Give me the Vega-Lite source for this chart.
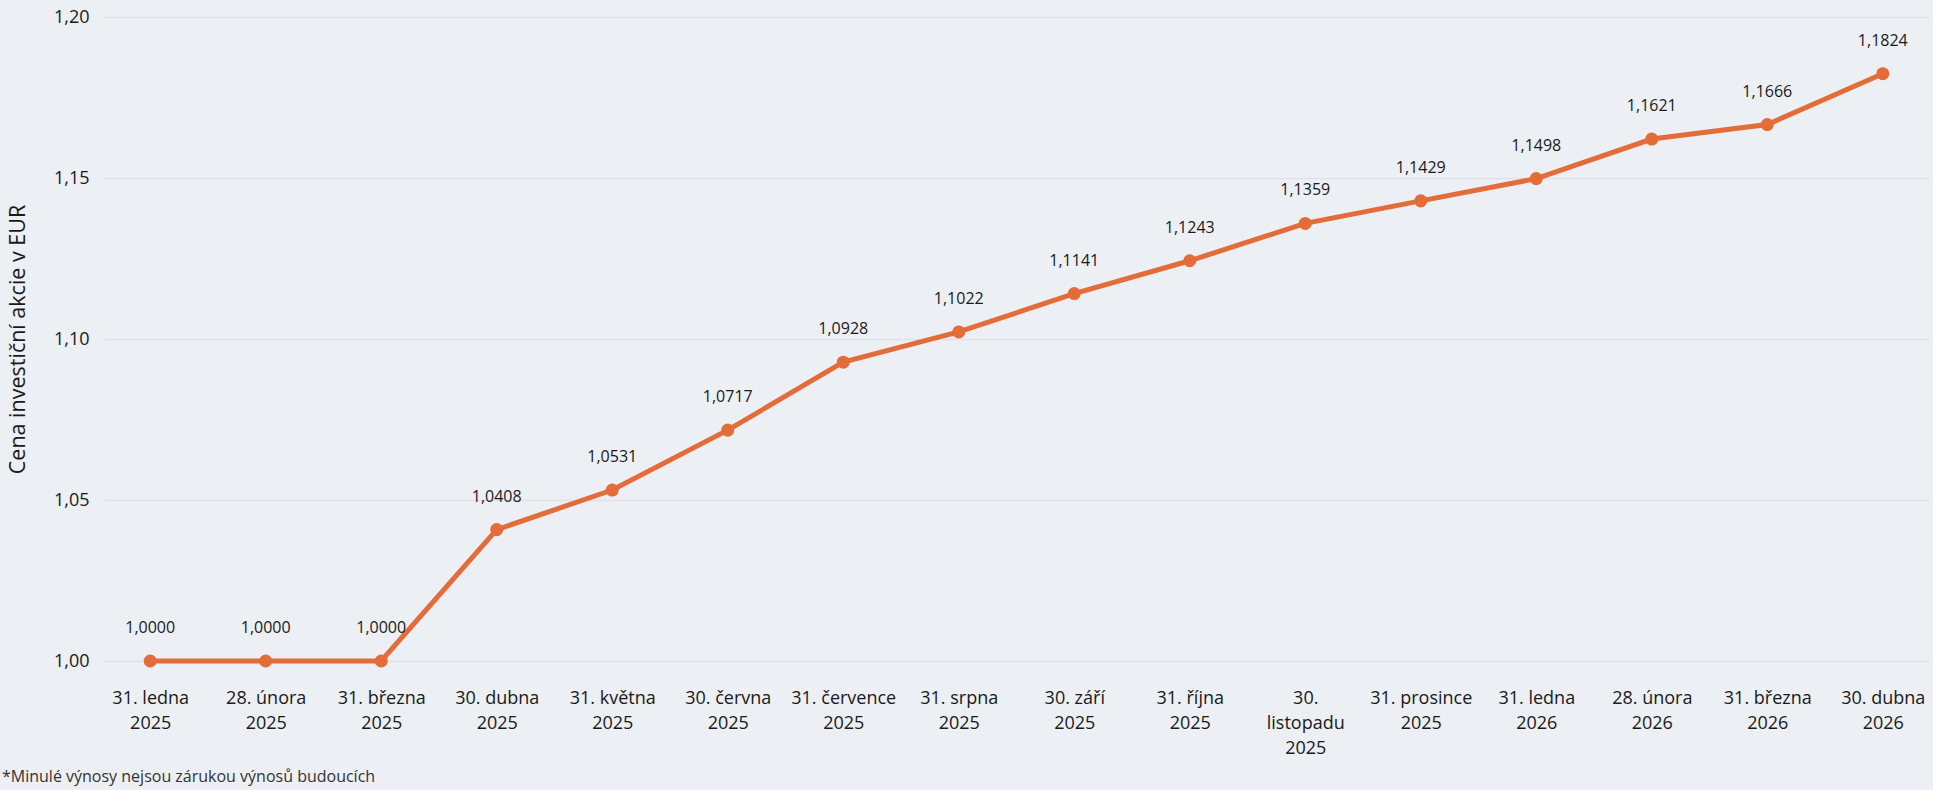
{
  "$schema": "https://vega.github.io/schema/vega-lite/v6.json",
  "autosize": {"type": "none"},
  "width": 1825,
  "height": 644,
  "padding": {"left": 104, "top": 17, "right": 4, "bottom": 129},
  "background": "#ECEFF4",
  "config": {
    "view": {"stroke": null},
    "font": "Open Sans",
    "locale": {
      "number": {"decimal": ",", "thousands": " ", "grouping": [3], "currency": ["", " €"]}
    }
  },
  "title": {
    "text": "*Minulé výnosy nejsou zárukou výnosů budoucích",
    "orient": "bottom",
    "anchor": "start",
    "frame": "group",
    "dx": -102,
    "offset": 12,
    "fontSize": 16,
    "fontWeight": "normal",
    "color": "#333333",
    "font": "Open Sans"
  },
  "data": {
    "values": [
      {"datum": "31. ledna|2025", "cena": 1.0000},
      {"datum": "28. února|2025", "cena": 1.0000},
      {"datum": "31. března|2025", "cena": 1.0000},
      {"datum": "30. dubna|2025", "cena": 1.0408},
      {"datum": "31. května|2025", "cena": 1.0531},
      {"datum": "30. června|2025", "cena": 1.0717},
      {"datum": "31. července|2025", "cena": 1.0928},
      {"datum": "31. srpna|2025", "cena": 1.1022},
      {"datum": "30. září|2025", "cena": 1.1141},
      {"datum": "31. října|2025", "cena": 1.1243},
      {"datum": "30.|listopadu|2025", "cena": 1.1359},
      {"datum": "31. prosince|2025", "cena": 1.1429},
      {"datum": "31. ledna|2026", "cena": 1.1498},
      {"datum": "28. února|2026", "cena": 1.1621},
      {"datum": "31. března|2026", "cena": 1.1666},
      {"datum": "30. dubna|2026", "cena": 1.1824}
    ]
  },
  "encoding": {
    "x": {
      "field": "datum",
      "type": "ordinal",
      "sort": null,
      "scale": {"type": "point", "padding": 0.4},
      "axis": {
        "title": null,
        "labelAngle": 0,
        "labelExpr": "split(datum.value, '|')",
        "labelFontSize": 18,
        "labelLineHeight": 25,
        "labelColor": "#1a1a1a",
        "labelPadding": 28,
        "labelBaseline": "top",
        "ticks": false,
        "domain": false,
        "grid": false
      }
    },
    "y": {
      "field": "cena",
      "type": "quantitative",
      "scale": {"domain": [1.0, 1.2], "zero": false, "nice": false},
      "axis": {
        "title": "Cena investiční akcie v EUR",
        "titleFontSize": 21.5,
        "titleFontWeight": "normal",
        "titleColor": "#1a1a1a",
        "titlePadding": 24,
        "values": [1.0, 1.05, 1.1, 1.15, 1.2],
        "format": ".2f",
        "labelFontSize": 18,
        "labelColor": "#1a1a1a",
        "labelPadding": 15,
        "ticks": false,
        "domain": false,
        "gridColor": "#DFE3E9",
        "gridWidth": 1.5
      }
    }
  },
  "layer": [
    {
      "mark": {"type": "line", "color": "#E36C38", "strokeWidth": 5}
    },
    {
      "mark": {"type": "point", "filled": true, "opacity": 1, "color": "#E36C38", "size": 170}
    },
    {
      "mark": {"type": "text", "dy": -33, "fontSize": 16, "color": "#1a1a1a", "baseline": "middle"},
      "encoding": {
        "text": {"field": "cena", "type": "quantitative", "format": ".4f"}
      }
    }
  ]
}
